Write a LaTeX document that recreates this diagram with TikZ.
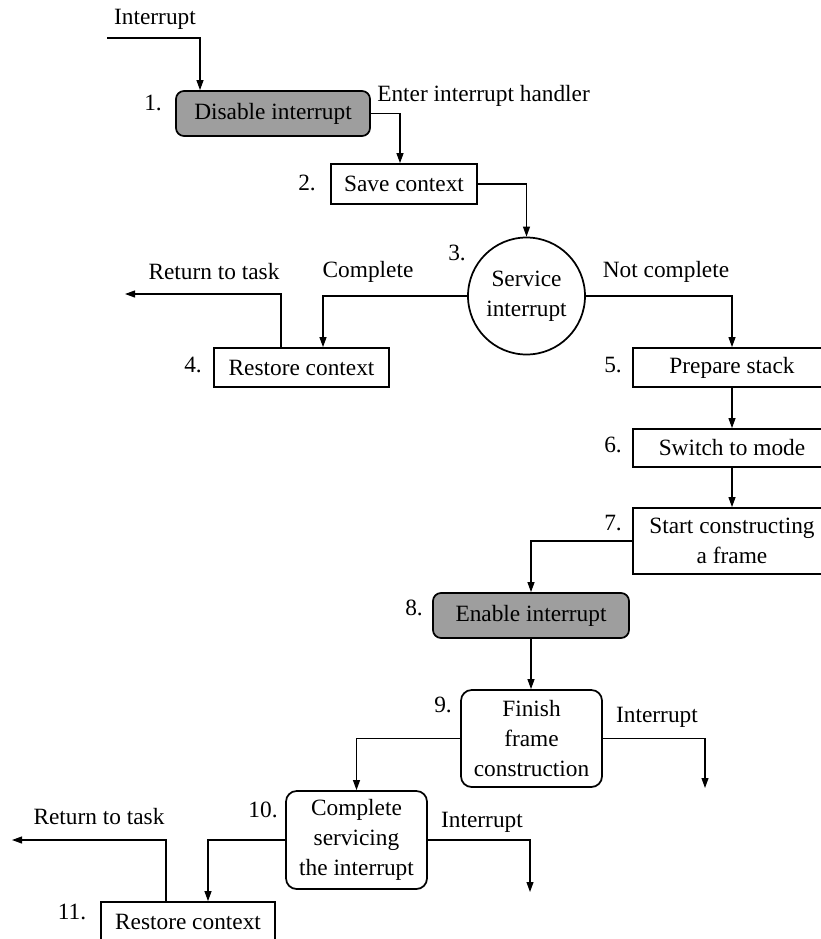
\documentclass[tikz,border=0pt]{standalone}
\usepackage{fontspec}
\setmainfont{Liberation Serif}
\usetikzlibrary{arrows.meta}
\definecolor{boxgray}{RGB}{158,158,158}
\begin{document}
\begin{tikzpicture}[x=0.75pt,y=-0.75pt,
  every node/.style={font=\fontsize{17.5}{22.5}\selectfont},
  boxnode/.style={draw,line width=1.3pt,inner sep=0pt,align=center},
  grayround/.style={boxnode,fill=boxgray,rounded corners=6pt},
  whiteround/.style={boxnode,rounded corners=8pt},
  circnode/.style={draw,line width=1.3pt,circle,inner sep=0pt,align=center,minimum size=87.75pt},
  lbl/.style={inner sep=0pt},
  conn/.style={line width=0.9pt},
  arr/.style={conn,-{Triangle[length=7.5pt,width=5.2pt]}}]
\useasboundingbox (0,0) rectangle (821,939);

% boxes
\node[grayround,minimum width=145.5pt,minimum height=33.75pt] (n1) at (273,113.5) {Disable interrupt};
\node[boxnode,minimum width=109.5pt,minimum height=30pt] (n2) at (404,184) {Save context};
\node[circnode] (n3) at (526.5,296) {Service\\interrupt};
\node[boxnode,minimum width=131.25pt,minimum height=29.25pt] (n4) at (301.5,367.5) {Restore context};
\node[boxnode,minimum width=148.5pt,minimum height=29.25pt] (n5) at (732,367.5) {Prepare stack};
\node[boxnode,minimum width=148.5pt,minimum height=28.5pt] (n6) at (732,448) {Switch to mode};
\node[boxnode,minimum width=148.5pt,minimum height=49.5pt] (n7) at (732,541) {Start constructing\\a frame};
\node[grayround,minimum width=147pt,minimum height=33.75pt] (n8) at (531,615.5) {Enable interrupt};
\node[whiteround,minimum width=105.75pt,minimum height=72.75pt] (n9) at (531.5,738.5) {Finish\\frame\\construction};
\node[whiteround,minimum width=105.75pt,minimum height=73.5pt] (n10) at (356.5,840) {Complete\\servicing\\the interrupt};
\node[boxnode,minimum width=130.5pt,minimum height=29.25pt] (n11) at (188,921.5) {Restore context};

% step numbers
\node[lbl] (s1) at (153,103) {1.};
\node[lbl] (s2) at (307,183) {2.};
\node[lbl] (s3) at (457,253) {3.};
\node[lbl] (s4) at (193,365) {4.};
\node[lbl] (s5) at (613,365) {5.};
\node[lbl] (s6) at (613,445) {6.};
\node[lbl] (s7) at (613,523) {7.};
\node[lbl] (s8) at (414,608) {8.};
\node[lbl] (s9) at (443,705) {9.};
\node[lbl] (s10) at (263,810) {10.};
\node[lbl] (s11) at (72,912) {11.};

% text labels
\node[lbl] (tInt) at (155,19) {Interrupt};
\node[lbl,anchor=west] (tEnter) at (377,96) {Enter interrupt handler};
\node[lbl] (tRet1) at (214,272) {Return to task};
\node[lbl] (tComp) at (368,272) {Complete};
\node[lbl] (tNot) at (666,272) {Not complete};
\node[lbl] (tInt9) at (657,717) {Interrupt};
\node[lbl] (tInt10) at (482,822) {Interrupt};
\node[lbl] (tRet2) at (99,817) {Return to task};

% helper coordinates
\coordinate (i0) at (107,38);
\coordinate (i1x) at (200,0);
\coordinate (a2x) at (400,0);
\coordinate (c4x) at (323,0);
\coordinate (r1x) at (281,0);
\coordinate (r1) at (125,294);
\coordinate (e9) at (705,788);
\coordinate (e10) at (530,892);
\coordinate (b11x) at (208,0);
\coordinate (r11x) at (166,0);
\coordinate (r2) at (12,840);

% connectors
\draw[arr] (i0) -| (n1.north -| i1x);
\draw[arr] (n1.east) -| (n2.north -| a2x);
\draw[arr] (n2.east) -| (n3.north);
\draw[arr] (n3.west) -| (n4.north -| c4x);
\draw[arr] (n4.north -| r1x) |- (r1);
\draw[arr] (n3.east) -| (n5.north);
\draw[arr] (n5.south) -- (n6.north);
\draw[arr] (n6.south) -- (n7.north);
\draw[arr] (n7.west) -| (n8.north);
\draw[arr] (n8.south) -- (n8.south |- n9.north);
\draw[arr] (n9.west) -| (n10.north);
\draw[arr] (n9.east) -| (e9);
\draw[arr] (n10.west) -| (n11.north -| b11x);
\draw[arr] (n10.east) -| (e10);
\draw[arr] (n11.north -| r11x) |- (r2);
\end{tikzpicture}
\end{document}
